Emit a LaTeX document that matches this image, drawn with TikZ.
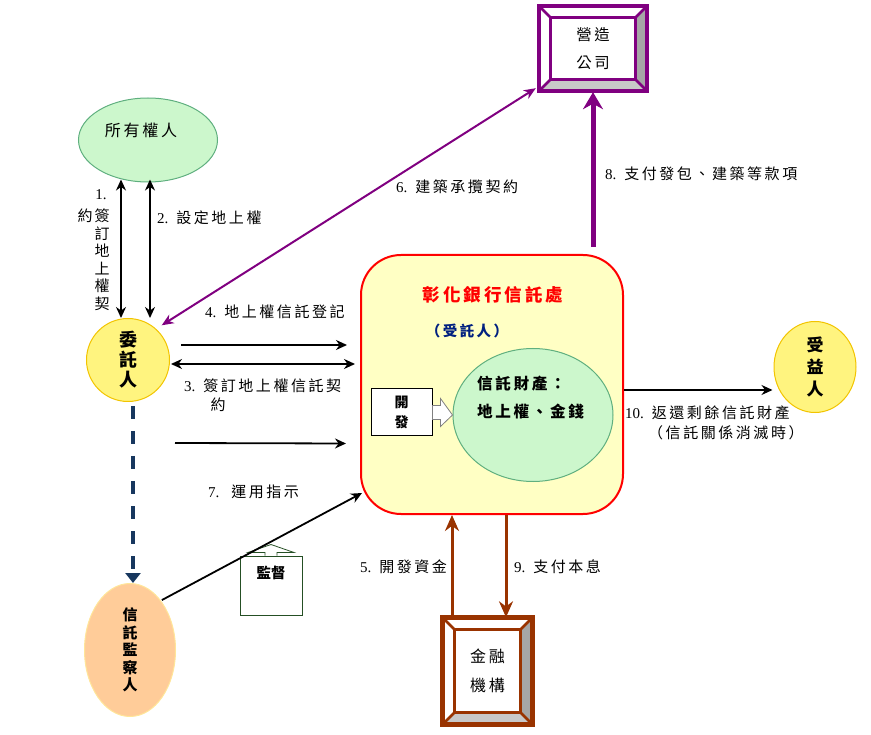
\documentclass[tikz,border=0pt]{standalone}
\usepackage{fontspec}
\usepackage{tikz}
\usetikzlibrary{arrows.meta,shapes.geometric}
\setmainfont{Liberation Serif}
\newfontfamily\cjk{Noto Sans CJK TC}[LetterSpace=17]
\newfontfamily\cjkv{Noto Sans CJK TC}
\definecolor{purp}{HTML}{800080}
\definecolor{brn}{HTML}{993300}
\definecolor{bankred}{HTML}{FF0000}
\definecolor{bankfill}{HTML}{FFFFC4}
\definecolor{grnfill}{HTML}{CCF7CC}
\definecolor{grnline}{HTML}{5FAF7F}
\definecolor{ylwfill}{HTML}{FFF47F}
\definecolor{ylwline}{HTML}{F2C400}
\definecolor{orgfill}{HTML}{FFCC99}
\definecolor{orgline}{HTML}{FFE699}
\definecolor{dblue}{HTML}{17375E}
\definecolor{navy}{HTML}{002080}
\definecolor{dgrn}{HTML}{254F24}
\definecolor{bevR}{HTML}{A6A6A6}
\definecolor{bevB}{HTML}{C8C8C8}
% #1 node, #2 inset, #3 colour, #4 outer line width
\newcommand\bevel[4]{%
\fill[bevR](#1.north east)--(#1.south east)--([shift={(-#2,-#2)}]#1.south east)--([shift={(-#2,#2)}]#1.north east)--cycle;
\fill[bevB](#1.south west)--(#1.south east)--([shift={(-#2,-#2)}]#1.south east)--([shift={(#2,-#2)}]#1.south west)--cycle;
\draw[#3,line width=2.5pt](#1.north west)--([shift={(#2,#2)}]#1.north west)(#1.north east)--([shift={(-#2,#2)}]#1.north east)
  (#1.south east)--([shift={(-#2,-#2)}]#1.south east)(#1.south west)--([shift={(#2,-#2)}]#1.south west);
\draw[#3,line width=3pt]([shift={(#2,#2)}]#1.north west)rectangle([shift={(-#2,-#2)}]#1.south east);
\draw[#3,line width=#4](#1.north west)rectangle(#1.south east);}

\begin{document}
\begin{tikzpicture}[x=1pt,y=-1pt,
  lbl/.style={anchor=west,inner sep=0pt,font=\fontsize{15}{17}\cjk},
  vtxt/.style={inner sep=0pt,align=center},
  ell/.style={ellipse,inner sep=0pt},
  blk/.style={-{Stealth[length=11pt,width=10pt]},line width=1.8pt},
  dblk/.style={{Stealth[length=11pt,width=10pt]}-{Stealth[length=11pt,width=10pt]},line width=1.8pt}]
\useasboundingbox (0,0) rectangle (871,735);
% parties
\node[ell,fill=grnfill,draw=grnline,line width=1pt,minimum width=139pt,minimum height=84pt] (owner) at (148,140) {};
\node[font=\fontsize{16}{18}\cjk] at (141,130) {所有權人};
\node[circle,fill=ylwfill,draw=ylwline,line width=1pt,minimum size=83pt,inner sep=0pt,vtxt,font=\fontsize{18}{20}\cjkv\bfseries] (trustor) at (128,360) {委\\託\\人};
\node[ell,fill=ylwfill,draw=ylwline,line width=1pt,minimum width=82pt,minimum height=91pt,vtxt,font=\fontsize{17}{22}\cjkv\bfseries] (benef) at (815,367) {受\\益\\人};
\node[ell,fill=orgfill,draw=orgline,line width=1pt,minimum width=91pt,minimum height=133pt,vtxt,font=\fontsize{15}{17.5}\cjkv\bfseries] (monitor) at (130,650) {信\\託\\監\\察\\人};
% bank
\node[draw=bankred,line width=2pt,fill=bankfill,rounded corners=40pt,minimum width=262pt,minimum height=259pt,inner sep=0pt] (bank) at (492,384.5) {};
\node[font=\fontsize{17.5}{20}\cjk\bfseries,text=bankred] (title) at (493,295) {彰化銀行信託處};
\node[font=\fontsize{14.5}{17}\cjk\bfseries,text=navy] (role) at (467,331) {（受託人）};
\node[ell,fill=grnfill,draw=grnline,line width=1pt,minimum width=160pt,minimum height=133pt] (prop) at (533,415) {};
\node[font=\fontsize{15.6}{28}\cjk\bfseries,align=left,anchor=west,inner sep=0pt] at (477,397) {信託財產：\\地上權、金錢};
\node[draw,fill=white,line width=1pt,minimum width=61pt,minimum height=47pt,inner sep=0pt,vtxt,font=\fontsize{14}{20}\cjkv\bfseries] (dev) at (401.5,412.5) {開\\發};
\draw[gray,fill=white,line width=0.8pt] ([yshift=7pt]dev.east)--++(8,0)--++(0,-7)--(prop.west)--([shift={(8,14)}]dev.east)--++(0,-7)--++(-8,0)--cycle;
% boxes
\node[minimum width=108pt,minimum height=85pt,inner sep=0pt,vtxt,font=\fontsize{15.4}{28}\cjk] (cons) at (593,48.5) {營造\\公司};
\bevel{cons}{11.5}{purp}{4pt}
\node[minimum width=90pt,minimum height=107pt,inner sep=0pt,vtxt,font=\fontsize{16}{29}\cjk] (fin) at (487.5,671) {金融\\機構};
\bevel{fin}{12.5}{brn}{5pt}
\node[draw=dgrn,fill=white,line width=1pt,minimum width=62pt,minimum height=59pt,inner sep=0pt,font=\fontsize{14.5}{17}\cjkv\bfseries,text depth=26pt] (watch) at (271,585.5) {監督};
\draw[dgrn,fill=white,line width=0.8pt] ([xshift=-6pt]watch.north)--++(0,-3)--++(-17,0)--++(23,-8)--++(23,8)--++(-17,0)--++(0,3);
% connectors
\draw[dblk] ([shift={(-27,-3)}]owner.south) -- ([xshift=-7pt]trustor.north);
\draw[dblk] ([shift={(2,-3)}]owner.south) -- ([xshift=22pt]trustor.north);
\draw[purp,line width=2pt,{Stealth[length=12pt,width=10pt]}-{Stealth[length=12pt,width=10pt]}] ([shift={(-3,-3)}]cons.south west) -- ([shift={(4,-5)}]trustor.45);
\draw[purp,line width=5pt,-{Stealth[length=17pt,width=20pt]}] ([yshift=7pt]cons.south |- bank.north) -- ([yshift=-1pt]cons.south);
\draw[blk] ([shift={(11,-15)}]trustor.east) -- ([shift={(-13,-39.5)}]bank.west);
\draw[dblk] ([shift={(1,4)}]trustor.east) -- ([shift={(-5,-20.5)}]bank.west);
\draw[blk] ([shift={(5,83)}]trustor.east) -- ([shift={(-14,59)}]bank.west);
\draw[blk] ([shift={(-1,-3)}]monitor.55) -- ([shift={(2,-22)}]bank.south west);
\draw[dblue,line width=4pt,dash pattern=on 13pt off 12pt,-{Triangle[length=10pt,width=15pt]}] ([shift={(5,4)}]trustor.south) -- ([xshift=3pt]monitor.north);
\draw[brn,line width=3pt,-{Stealth[length=16pt,width=14pt]}] ([xshift=-35.5pt]fin.north) -- ([xshift=-35.5pt]fin.north |- bank.south);
\draw[brn,line width=3pt,-{Stealth[length=16pt,width=14pt]}] ([xshift=18.5pt]fin.north |- bank.south) -- ([xshift=18.5pt]fin.north);
\draw[blk] ([yshift=-5.5pt]bank.east) -- ([shift={(-1,23)}]benef.west);
% labels
\node[font=\fontsize{15}{17}\rmfamily] at (101,195) {1.};
\node[vtxt,font=\fontsize{15}{17.5}\cjkv] at (102,260) {簽\\訂\\地\\上\\權\\契};
\node[font=\fontsize{15}{17}\cjkv] at (85,216) {約};
\node[lbl] at (157,218) {{\rmfamily 2.} 設定地上權};
\node[lbl] at (205,312) {{\rmfamily 4.} 地上權信託登記};
\node[lbl] at (184,386) {{\rmfamily 3.} 簽訂地上權信託契};
\node[font=\fontsize{15}{17}\cjkv] at (218,405) {約};
\node[lbl] at (208,492) {{\rmfamily 7.}\ \ 運用指示};
\node[lbl] at (396,187) {{\rmfamily 6.} 建築承攬契約};
\node[lbl] at (605,174) {{\rmfamily 8.} 支付發包、建築等款項};
\node[lbl] at (360,567) {{\rmfamily 5.} 開發資金};
\node[lbl] at (514,567) {{\rmfamily 9.} 支付本息};
\node[lbl] at (625,413) {{\rmfamily 10.} 返還剩餘信託財產};
\node[lbl] at (648,433) {（信託關係消滅時）};
\end{tikzpicture}
\end{document}
